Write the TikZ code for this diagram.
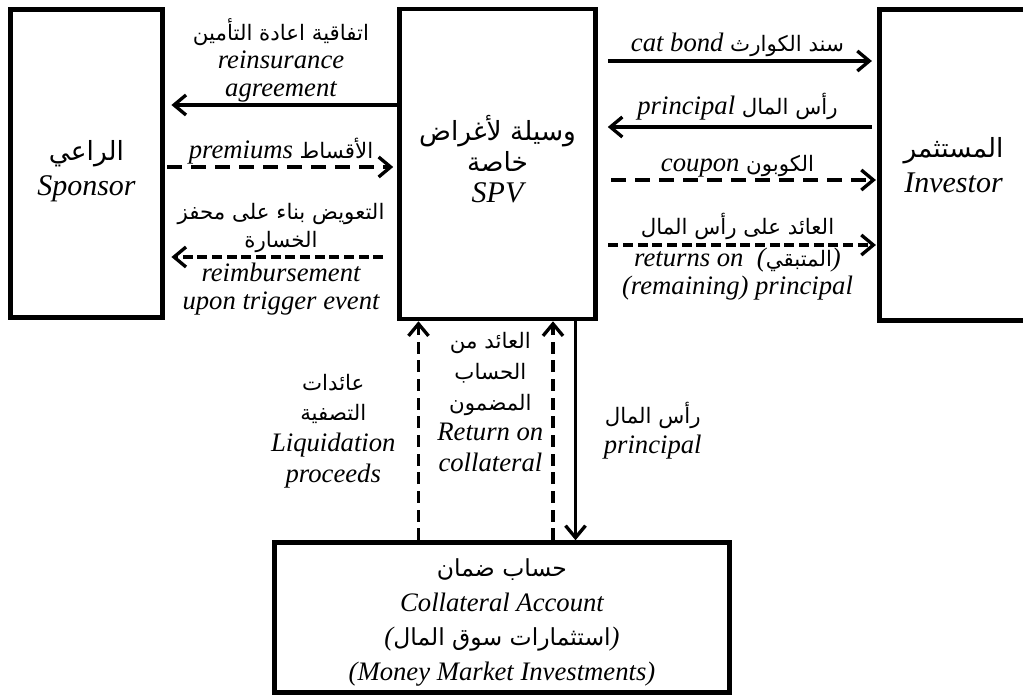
\documentclass[tikz,border=0pt]{standalone}
\usepackage{fontspec}
\setmainfont{Liberation Serif}
\newfontfamily\arabicfont[Script=Arabic,Scale=0.8]{DejaVu Sans}
\newfontfamily\arabicbig[Script=Arabic,Scale=0.88]{DejaVu Sans}
\TeXXeTstate=1
\newcommand{\ar}[1]{{\arabicfont\upshape\beginR #1\endR}}
\newcommand{\arb}[1]{{\arabicbig\upshape\beginR #1\endR}}
\usetikzlibrary{arrows.meta}

\begin{document}
\begin{tikzpicture}[
  x=0.75pt, y=-0.75pt,
  font=\fontsize{20}{21}\selectfont\itshape,
  party/.style={rectangle, draw=black, line width=3.4pt, align=center, inner sep=0pt,
                font=\fontsize{22.5}{26}\selectfont\itshape},
  lbl/.style={align=center, inner sep=2pt},
  lblv/.style={lbl, font=\fontsize{20}{23}\selectfont\itshape},
  arr/.style={-{Straight Barb[length=9pt,width=15pt]}, line width=2.5pt},
  dashlong/.style={dash pattern=on 11pt off 7pt},
  dashshort/.style={dash pattern=on 7.5pt off 3.5pt},
  dashvert/.style={dash pattern=on 9pt off 5pt},
]
\useasboundingbox (0,0) rectangle (1023,695);
% --- PARTIES ---
\node[party, minimum width=114pt, minimum height=231pt] (sponsor) at (86.5,163.5)
  {\rule{0pt}{27pt}\arb{الراعي}\\Sponsor};
\node[party, minimum width=147pt, minimum height=232.5pt,
      font=\fontsize{22.5}{23}\selectfont\itshape] (spv) at (497.5,164)
  {\arb{وسيلة لأغراض}\\\arb{خاصة}\\SPV\rule[-7.5pt]{0pt}{7.5pt}};
\node[party, minimum width=111pt, minimum height=233pt] (investor) at (953.5,165)
  {\arb{المستثمر}\\Investor};
\node[party, minimum width=341pt, minimum height=112.5pt,
      font=\fontsize{20}{26}\selectfont\itshape] (collateral) at (502,617.5)
  {\rule{0pt}{21pt}\arb{حساب ضمان}\\Collateral Account\\(\arb{استثمارات سوق المال})\\(Money Market Investments)};
% --- heights / columns of the flows ---
\coordinate (yReins) at (0,105);
\coordinate (yPrem)  at (0,167);
\coordinate (yReimb) at (0,257);
\coordinate (yBond)  at (0,61);
\coordinate (yPrin)  at (0,127);
\coordinate (yCoup)  at (0,180);
\coordinate (yRet)   at (0,245);
\coordinate (xLiq)   at (418.5,0);
\coordinate (xRetc)  at (553,0);
\coordinate (xPrinc) at (575.5,0);
% --- sponsor <-> SPV ---
\draw[arr, shorten >=5pt] (spv.west |- yReins) --
  node[lbl, above=-1.5pt] {\ar{اتفاقية اعادة التأمين}\\reinsurance\\agreement} (sponsor.east |- yReins);
\draw[arr, dashlong, shorten <=2pt, shorten >=3pt] (sponsor.east |- yPrem) --
  node[lbl, above=-1pt] {premiums \ar{الأقساط}} (spv.west |- yPrem);
\draw[arr, dashshort, shorten <=10.5pt, shorten >=5pt] (spv.west |- yReimb) --
  node[lbl, above=0pt] {\ar{التعويض بناء على محفز}\\\ar{الخسارة}}
  node[lbl, below=1pt] {reimbursement\\upon trigger event} (sponsor.east |- yReimb);
% --- SPV <-> investor ---
\draw[arr, shorten <=7.5pt, shorten >=4pt] (spv.east |- yBond) --
  node[lbl, above=0pt] {cat bond \ar{سند الكوارث}} (investor.west |- yBond);
\draw[arr, shorten <=4pt, shorten >=7.5pt] (investor.west |- yPrin) --
  node[lbl, above=2pt] {principal \ar{رأس المال}} (spv.east |- yPrin);
\draw[arr, dashlong, shorten <=10pt, shorten >=1pt] (spv.east |- yCoup) --
  node[lbl, above=-1.5pt] {coupon \ar{الكوبون}} (investor.west |- yCoup);
\draw[arr, dashshort, shorten <=8pt, shorten >=1pt] (spv.east |- yRet) --
  node[lbl, above=1pt] {\ar{العائد على رأس المال}}
  node[lbl, below=-1pt] {returns on~ (\ar{المتبقي})\\(remaining) principal} (investor.west |- yRet);
% --- collateral account <-> SPV ---
\draw[arr, dashvert] (xLiq |- collateral.north) --
  node[lblv, left=14pt] {\ar{عائدات}\\\ar{التصفية}\\Liquidation\\proceeds} (xLiq |- spv.south);
\draw[arr, dashvert] (xRetc |- collateral.north) --
  node[lblv, left=4pt, pos=0.63] {\ar{العائد من}\\\ar{الحساب}\\\ar{المضمون}\\Return on\\collateral} (xRetc |- spv.south);
\draw[arr] (xPrinc |- spv.south) --
  node[lblv, right=18pt] {\ar{رأس المال}\\principal} (xPrinc |- collateral.north);
\end{tikzpicture}
\end{document}
